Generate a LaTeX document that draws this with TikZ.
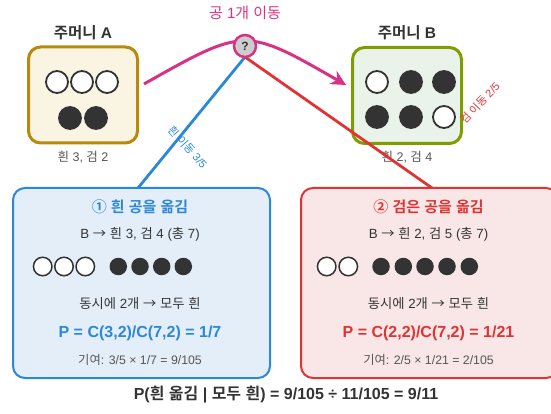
\documentclass[tikz,border=0pt]{standalone}
\usepackage{fontspec}
\setmainfont{Liberation Sans}
\newfontfamily\krfont{Noto Sans CJK KR}[BoldFont={Noto Sans CJK KR Bold}]
\XeTeXinterchartokenstate=1
\newXeTeXintercharclass\KRclass
\makeatletter
\count@="AC00
\loop \XeTeXcharclass\count@=\KRclass \ifnum\count@<"D7A3 \advance\count@\@ne \repeat
\XeTeXcharclass"2460=\KRclass
\XeTeXcharclass"2461=\KRclass
\XeTeXcharclass"2192=\KRclass
\makeatother
\XeTeXinterchartoks 0 \KRclass = {\krfont}
\XeTeXinterchartoks 4095 \KRclass = {\krfont}
\XeTeXinterchartoks \KRclass 0 = {\rmfamily}
\XeTeXinterchartoks \KRclass 4095 = {\rmfamily}
\usetikzlibrary{arrows.meta}
\definecolor{mag}{HTML}{D63384}
\definecolor{bl}{HTML}{2B88D8}
\definecolor{rd}{HTML}{E03434}
\definecolor{gold}{HTML}{B8890B}
\definecolor{olive}{HTML}{7F9C00}
\definecolor{bagAfill}{HTML}{FAF4E2}
\definecolor{bagBfill}{HTML}{EAF3E9}
\definecolor{boxAfill}{HTML}{E4EEF9}
\definecolor{boxBfill}{HTML}{F9E7E7}
\definecolor{ink}{HTML}{333333}
\definecolor{gr}{HTML}{555555}
\definecolor{qfill}{HTML}{CCCCCC}
\begin{document}
\begin{tikzpicture}[x=1pt,y=-1pt,
  bag/.style={draw, line width=3pt, rounded corners=12pt, minimum width=109pt, minimum height=96pt, inner sep=0pt, outer sep=0pt},
  panel/.style={draw, line width=2pt, rounded corners=12pt, minimum width=257pt, minimum height=190pt, inner sep=0pt, outer sep=0pt},
  wball/.style={circle, draw=ink, fill=white, line width=1.8pt, minimum size=22pt, inner sep=0pt},
  bball/.style={circle, draw=ink, fill=ink, line width=1.8pt, minimum size=22pt, inner sep=0pt},
  swball/.style={circle, draw=ink, fill=white, line width=1.5pt, minimum size=18.5pt, inner sep=0pt},
  sbball/.style={circle, fill=ink, minimum size=17.5pt, inner sep=0pt},
  bagtitle/.style={text=ink, font=\bfseries\fontsize{15.5}{18}\selectfont, inner sep=0pt},
  bagnote/.style={text=gr, font=\fontsize{12.5}{15}\selectfont, inner sep=0pt},
  ptitle/.style={font=\bfseries\fontsize{15}{18}\selectfont, inner sep=0pt},
  pline/.style={text=ink, font=\fontsize{13.3}{16}\selectfont, inner sep=0pt},
  pformula/.style={font=\bfseries\fontsize{16}{19}\selectfont, inner sep=0pt},
  pcontrib/.style={text=gr, font=\fontsize{12.3}{15}\selectfont, inner sep=0pt},
  edgelabel/.style={font=\fontsize{11}{13}\selectfont, inner sep=0pt},
  link/.style={line width=2.8pt}
]
\useasboundingbox (0,0) rectangle (551,414);

% bags
\node[bag, draw=gold, fill=bagAfill] (bagA) at (83,95) {};
\node[bag, draw=olive, fill=bagBfill] (bagB) at (407,95.5) {};
\node[bagtitle] (titleA) at (83,33) {주머니 A};
\node[bagtitle] (titleB) at (407,33) {주머니 B};
\node[bagnote] (noteA) at (83,157) {흰 3, 검 2};
\node[bagnote] (noteB) at (407,157) {흰 2, 검 4};

% balls in A
\node[wball] (a1) at (57,82) {};
\node[wball] (a2) at (82,82) {};
\node[wball] (a3) at (107,82) {};
\node[bball] (a4) at (70,118) {};
\node[bball] (a5) at (96,118) {};

% balls in B
\node[wball] (b1) at (377,82) {};
\node[bball] (b2) at (411,82) {};
\node[bball] (b3) at (444,82) {};
\node[bball] (b4) at (377,117) {};
\node[bball] (b5) at (411,117) {};
\node[wball] (b6) at (444,117) {};

% panels
\node[panel, draw=bl, fill=boxAfill] (boxA) at (141.5,283) {};
\node[panel, draw=rd, fill=boxBfill] (boxB) at (429.5,283) {};

% question node and connectors
\coordinate (arcS) at (144,84);
\coordinate (arcE) at (346,85);
\coordinate (endA) at (138,188);
\coordinate (endB) at (432,188);
\draw[mag, line width=3pt, -{Stealth[length=15pt,width=15pt]}] (arcS) .. controls (245,27) .. (arcE);
\coordinate (qc) at (245,46);
\draw[link, bl] (qc) ++(0,11) coordinate (qs1) -- (endA);
\draw[link, rd] (qs1) -- (endB);
\node[circle, draw=mag, fill=qfill, line width=2.5pt, minimum size=22pt, inner sep=0pt,
      font=\bfseries\fontsize{12}{14}\selectfont, text=ink] (q) at (qc) {?};
\node[text=mag, font=\fontsize{15}{17}\selectfont, inner sep=0pt] (move) at (245,13) {공 1개 이동};
\node[edgelabel, text=bl, rotate=-49] (lblA) at (188,147) {흰 이동 3/5};
\node[edgelabel, text=rd, rotate=47] (lblB) at (480,103) {검 이동 2/5};

% panel A content
\node[ptitle, text=bl] (tA) at (140,207) {① 흰 공을 옮김};
\node[pline] (sA) at (140,234) {B → 흰 3, 검 4 (총 7)};
\foreach \i/\x in {1/42.7,2/64,3/85.3} \node[swball] (pw\i) at (\x,266.5) {};
\foreach \i/\x in {1/118.3,2/140,3/161.7,4/183.3} \node[sbball] (pb\i) at (\x,266.5) {};
\node[pline] (dA) at (140,304) {동시에 2개 → 모두 흰};
\node[pformula, text=bl] (fA) at (140,333) {P = C(3,2)/C(7,2) = 1/7};
\node[pcontrib] (cA) at (140,360) {기여: 3/5 × 1/7 = 9/105};

% panel B content
\node[ptitle, text=rd] (tB) at (428.5,207) {② 검은 공을 옮김};
\node[pline] (sB) at (428.5,234) {B → 흰 2, 검 5 (총 7)};
\foreach \i/\x in {1/326.7,2/348.3} \node[swball] (qw\i) at (\x,266.5) {};
\foreach \i/\x in {1/381,2/403.3,3/425,4/447,5/469.3} \node[sbball] (qb\i) at (\x,266.5) {};
\node[pline] (dB) at (428.5,304) {동시에 2개 → 모두 흰};
\node[pformula, text=rd] (fB) at (428.5,333) {P = C(2,2)/C(7,2) = 1/21};
\node[pcontrib] (cB) at (428.5,360) {기여: 2/5 × 1/21 = 2/105};

% result
\node[text=ink, font=\bfseries\fontsize{16}{19}\selectfont, inner sep=0pt] (res) at (286,395) {P(흰 옮김 | 모두 흰) = 9/105 ÷ 11/105 = 9/11};
\end{tikzpicture}
\end{document}
